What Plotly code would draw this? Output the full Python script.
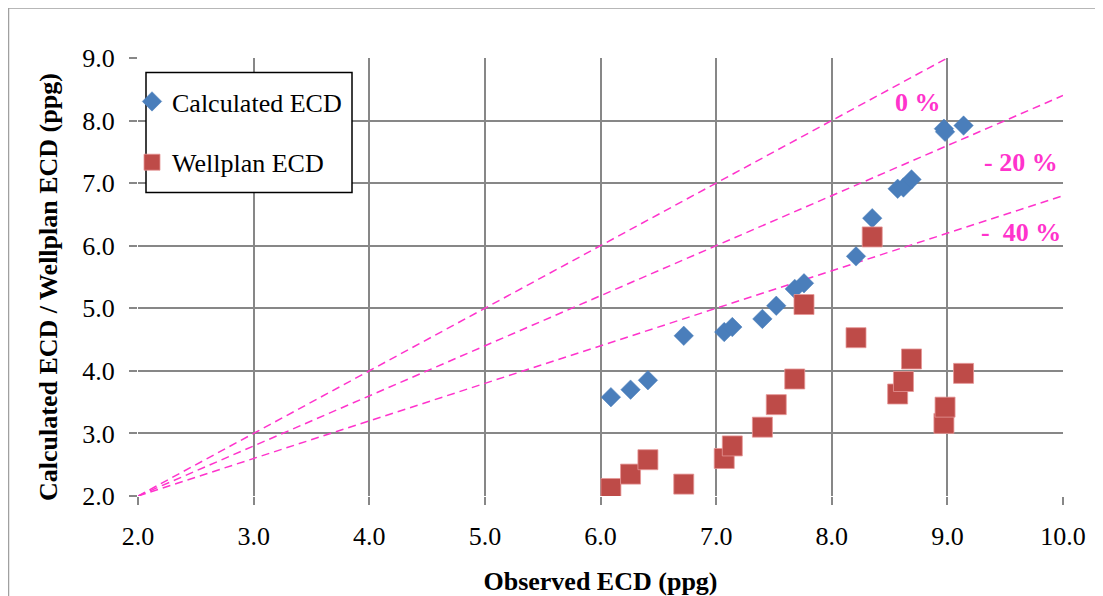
import plotly.graph_objects as go

# Observed ECD (ppg) – shared x values
observed = [6.09, 6.26, 6.41, 6.72, 7.07, 7.14, 7.40, 7.52, 7.68, 7.76,
            8.21, 8.35, 8.57, 8.62, 8.69, 8.97, 8.98, 9.14]
calculated = [3.58, 3.70, 3.85, 4.56, 4.62, 4.70, 4.83, 5.04, 5.31, 5.40,
              5.83, 6.44, 6.91, 6.93, 7.06, 7.87, 7.82, 7.92]
wellplan = [2.12, 2.35, 2.58, 2.19, 2.60, 2.80, 3.10, 3.46, 3.87, 5.06,
            4.53, 6.14, 3.63, 3.83, 4.19, 3.16, 3.42, 3.96]

# deviation reference lines (pivot at 2.0, 2.0)
ref_x = [2.0, 10.0]
ref_0 = [2.0, 10.0]
ref_20 = [2.0, 8.4]
ref_40 = [2.0, 6.8]

ref_labels = ["0 %", "- 20 %", "-\u00a0 40 %"]
ref_label_x = [8.96, 9.97, 10.0]
ref_label_y = [8.29, 7.33, 6.21]

x_ticks = [2.0, 3.0, 4.0, 5.0, 6.0, 7.0, 8.0, 9.0, 10.0]
y_ticks = [2.0, 3.0, 4.0, 5.0, 6.0, 7.0, 8.0, 9.0]

x_title = "Observed ECD (ppg)"
y_title = "Calculated ECD / Wellplan ECD (ppg)"

SERIF = "Liberation Serif, Times New Roman, serif"
MAGENTA = "#FF33CC"
GRID = "#878787"

# page offset (body margin) compensation
OFF = 8
L, T, PW, PH = 138 - OFF, 58 - OFF, 925, 438


def px_x(sx):
    """screen x -> paper x"""
    return (sx - OFF - L) / PW


def px_y(sy):
    """screen y -> paper y"""
    return (T + PH - (sy - OFF)) / PH


fig = go.Figure()

for ry in (ref_0, ref_20, ref_40):
    fig.add_trace(go.Scatter(
        x=ref_x, y=ry, mode="lines", showlegend=False, hoverinfo="skip",
        line=dict(color=MAGENTA, width=1.5, dash="8px,5px")))

fig.add_trace(go.Scatter(
    x=observed, y=calculated, mode="markers", name="Calculated ECD",
    legendgroup="a",
    marker=dict(symbol="diamond", size=15, color="#4A7EBB",
                line=dict(width=0.8, color="rgba(74,126,187,0.6)"))))
fig.add_trace(go.Scatter(
    x=observed, y=wellplan, mode="markers", name="Wellplan ECD",
    legendgroup="b",
    marker=dict(symbol="square", size=20, color="#BE4B48",
                line=dict(width=1, color="rgba(230,150,150,0.8)"))))

for t, xx, yy in zip(ref_labels, ref_label_x, ref_label_y):
    fig.add_annotation(x=xx, y=yy, text="<b>" + t + "</b>", showarrow=False,
                       xanchor="right", yanchor="middle",
                       font=dict(family=SERIF, size=26, color=MAGENTA))

# y axis title placed as rotated text (centred as in the reference)
fig.add_annotation(xref="paper", yref="paper", x=px_x(48), y=px_y(287),
                   text="<b>" + y_title + "</b>", textangle=-90,
                   showarrow=False, xanchor="center", yanchor="middle",
                   font=dict(family=SERIF, size=26, color="black"))

axis_common = dict(
    showgrid=True, gridcolor=GRID, gridwidth=1.5,
    showline=False, zeroline=False,
    ticks="outside", ticklen=8, tickwidth=1.5, tickcolor=GRID,
    tickfont=dict(family=SERIF, size=26, color="black"),
    tickformat=".1f", ticklabelstandoff=9,
)

fig.update_xaxes(range=[2, 10], tickvals=x_ticks, **axis_common,
                 title=dict(text="<b>" + x_title + "</b>", standoff=21,
                            font=dict(family=SERIF, size=26, color="black")))
fig.update_yaxes(range=[2, 9], tickvals=y_ticks, **axis_common)

# outer chart frame
fig.add_shape(type="rect", xref="paper", yref="paper",
              x0=px_x(8.5), x1=px_x(1102), y0=-0.3, y1=px_y(8),
              line=dict(color="#A0A0A0", width=1.5), layer="below")

# legend box
fig.add_shape(type="rect", xref="paper", yref="paper",
              x0=px_x(146), x1=px_x(352), y0=px_y(192.5), y1=px_y(72.5),
              line=dict(color="black", width=1.5), fillcolor="white",
              layer="above")

fig.update_layout(
    width=1103, height=596,
    margin=dict(l=L, r=1103 - L - PW, t=T, b=596 - T - PH, autoexpand=False),
    paper_bgcolor="white", plot_bgcolor="white",
    font=dict(family=SERIF, color="black"),
    legend=dict(x=px_x(132), y=px_y(78),
                xanchor="left", yanchor="top",
                bgcolor="rgba(0,0,0,0)", borderwidth=0,
                font=dict(family=SERIF, size=26, color="black"),
                tracegroupgap=24, itemsizing="trace"),
)

fig.write_html("out.html")
